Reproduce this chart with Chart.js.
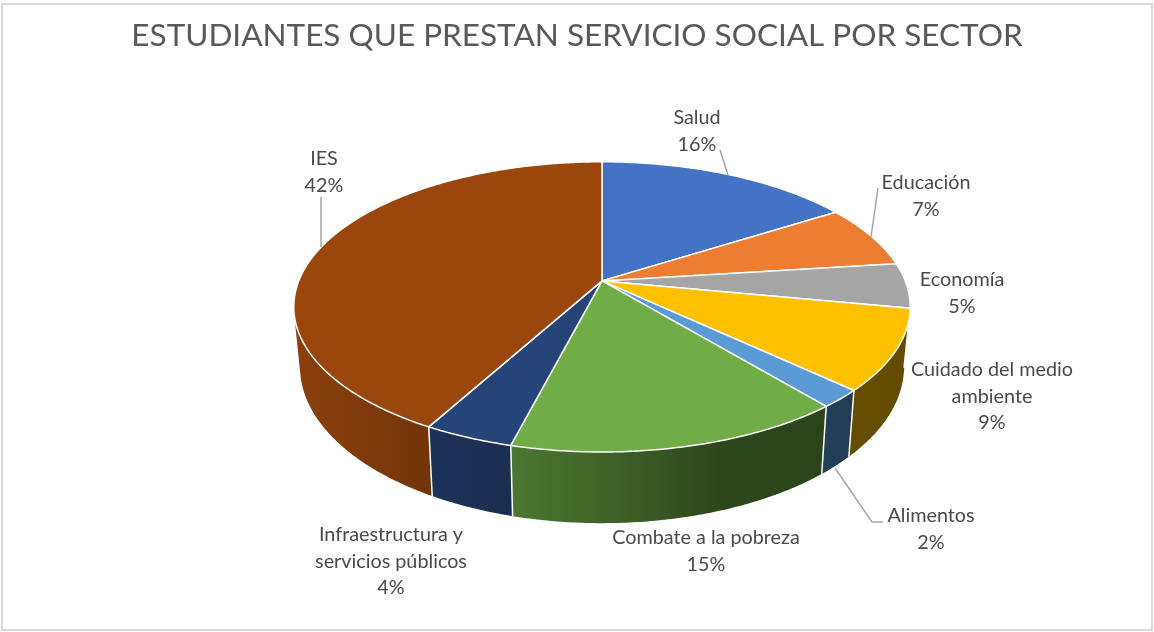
<!DOCTYPE html>
<html>
<head>
<meta charset="utf-8">
<style>
  html, body { margin: 0; padding: 0; background: #fff; }
  #wrap { position: relative; width: 1154px; height: 632px; }
</style>
<script src="https://cdn.jsdelivr.net/npm/chart.js@4"></script>
</head>
<body>
<div id="wrap"><canvas id="chart" width="1154" height="632"></canvas></div>
<script>
// ===== Data =====
const CHART_TITLE = 'ESTUDIANTES QUE PRESTAN SERVICIO SOCIAL POR SECTOR';
const SECTORS = ['Salud', 'Educación', 'Economía', 'Cuidado del medio ambiente', 'Alimentos', 'Combate a la pobreza', 'Infraestructura y servicios públicos', 'IES'];
const PERCENTS = [16, 7, 5, 9, 2, 15, 4, 42];
const TOP_COLORS = ['#4472C4', '#ED7D31', '#A5A5A5', '#FFC000', '#5B9BD5', '#70AD47', '#264478', '#9A460C'];
const WALL_COLORS = [
    ['#294476'], ['#8e4b1d'], ['#636363'],
    ['#664d00', '#624a00'],
    ['#23405a', '#213b53'],
    ['#4b7731', '#3d6127', '#2c461b', '#2b441a'],
    ['#1c3359', '#1a2e50'],
    ['#8b400d', '#723409']
];

// ===== Label placement (centre x, y of first line, wrapped lines) =====
const LABEL_X = [697, 926, 962, 992, 931, 706, 391, 324];
const LABEL_Y = [118, 183, 280, 370, 516, 538, 535, 159];
const LABEL_LINES = [['Salud'], ['Educación'], ['Economía'], ['Cuidado del medio', 'ambiente'], ['Alimentos'], ['Combate a la pobreza'], ['Infraestructura y', 'servicios públicos'], ['IES']];
const LEADERS = [
    [[720, 150], [728, 175]],
    [[878, 188], [871, 237]],
    [[321, 197], [321, 247]],
    [[835, 468], [872, 522], [883, 522]]
];

// ===== Projection of the flat pie into the tilted disc =====
const PERSPECTIVE = 0.179;
const RX_FACTOR = 1.384;
const RY_FACTOR = 0.641;
const CENTER_SHIFT = 25; // title stays centred on the canvas, the pie sits right of it

function topPoint(arc, angle) {
    const d = 1 - PERSPECTIVE * Math.sin(angle);
    return {
        x: arc.x + CENTER_SHIFT + arc.outerRadius * RX_FACTOR * Math.cos(angle) / d,
        y: arc.y + arc.outerRadius * RY_FACTOR * Math.sin(angle) / d
    };
}

function bottomPoint(arc, angle) {
    const p = topPoint(arc, angle);
    const cx = arc.x + CENTER_SHIFT;
    return {
        x: cx + (p.x - cx) * 0.98,
        y: p.y + 57.5 + (p.y - arc.y) * 0.08
    };
}

function anglesOf(arc) {
    const list = [];
    const n = Math.max(4, Math.ceil((arc.endAngle - arc.startAngle) / 0.01));
    for (let i = 0; i <= n; i++) list.push(arc.startAngle + (arc.endAngle - arc.startAngle) * i / n);
    return list;
}

function addQuad(ctx, a, b, c, d) {
    const area = (b.x - a.x) * (c.y - a.y) - (b.y - a.y) * (c.x - a.x) + (c.x - a.x) * (d.y - a.y) - (c.y - a.y) * (d.x - a.x);
    const pts = area >= 0 ? [a, b, c, d] : [d, c, b, a];
    ctx.moveTo(pts[0].x, pts[0].y);
    for (let i = 1; i < 4; i++) ctx.lineTo(pts[i].x, pts[i].y);
    ctx.closePath();
}

function drawWall(ctx, arc, colors) {
    const angles = anglesOf(arc).filter(a => Math.sin(a) > -0.3);
    if (angles.length < 2) return;
    const tops = angles.map(a => topPoint(arc, a));
    const bottoms = angles.map(a => bottomPoint(arc, a));
    const xs = tops.concat(bottoms).map(p => p.x);
    const grad = ctx.createLinearGradient(Math.min(...xs), 0, Math.max(...xs), 0);
    colors.forEach((c, i) => grad.addColorStop(colors.length > 1 ? i / (colors.length - 1) : 0, c));
    ctx.fillStyle = grad;
    ctx.beginPath();
    for (let i = 0; i < angles.length - 1; i++) addQuad(ctx, tops[i], tops[i + 1], bottoms[i + 1], bottoms[i]);
    ctx.fill('nonzero');
}

function drawEdge(ctx, arc, angle) {
    if (Math.sin(angle) < 0) return;
    const t = topPoint(arc, angle);
    const b = bottomPoint(arc, angle);
    ctx.beginPath();
    ctx.moveTo(t.x, t.y);
    ctx.lineTo(b.x, b.y);
    ctx.strokeStyle = '#fff';
    ctx.lineWidth = 1.5;
    ctx.stroke();
}

function drawTop(ctx, arc, color) {
    const apexX = arc.x + CENTER_SHIFT;
    ctx.beginPath();
    ctx.moveTo(apexX, arc.y);
    anglesOf(arc).forEach(a => {
        const p = topPoint(arc, a);
        ctx.lineTo(p.x, p.y);
    });
    ctx.closePath();
    ctx.fillStyle = color;
    ctx.fill();
    ctx.strokeStyle = '#fff';
    ctx.lineWidth = 1.5;
    ctx.lineJoin = 'round';
    ctx.stroke();
}

// draws the library's arc elements tilted, with their side wall
const tiltedPie = {
    id: 'tiltedPie',
    beforeDraw(chart) {
        const ctx = chart.ctx;
        ctx.save();
        ctx.fillStyle = '#fff';
        ctx.fillRect(0, 0, chart.width, chart.height);
        ctx.strokeStyle = '#d9d9d9';
        ctx.lineWidth = 2;
        ctx.strokeRect(2, 4, chart.width - 4, chart.height - 6);
        ctx.restore();
    },
    beforeDatasetsDraw(chart) {
        const ctx = chart.ctx;
        const arcs = chart.getDatasetMeta(0).data;
        ctx.save();
        arcs.forEach((arc, i) => drawWall(ctx, arc, WALL_COLORS[i]));
        arcs.forEach(arc => {
            drawEdge(ctx, arc, arc.startAngle);
        });
        arcs.forEach((arc, i) => drawTop(ctx, arc, TOP_COLORS[i]));
        ctx.restore();
        return false;
    },
    afterDraw(chart) {
        const ctx = chart.ctx;
        ctx.save();
        ctx.strokeStyle = '#a6a6a6';
        ctx.lineWidth = 1.5;
        LEADERS.forEach(line => {
            ctx.beginPath();
            line.forEach((p, i) => i ? ctx.lineTo(p[0], p[1]) : ctx.moveTo(p[0], p[1]));
            ctx.stroke();
        });
        ctx.fillStyle = '#4a4a4a';
        ctx.font = "19.8px Lato";
        ctx.textAlign = 'center';
        ctx.textBaseline = 'middle';
        LABEL_LINES.forEach((lines, i) => {
            const rows = lines.concat(PERCENTS[i] + '%');
            rows.forEach((row, r) => ctx.fillText(row, LABEL_X[i], LABEL_Y[i] + r * 26.2));
        });
        ctx.restore();
    }
};

new Chart(document.getElementById('chart'), {
    type: 'pie',
    data: {
        labels: SECTORS,
        datasets: [{ data: PERCENTS, backgroundColor: TOP_COLORS, borderWidth: 0 }]
    },
    options: {
        responsive: false,
        animation: false,
        layout: { padding: { bottom: 132 } },
        plugins: {
            legend: { display: false },
            tooltip: { enabled: false },
            title: {
                display: true,
                text: CHART_TITLE,
                color: '#595959',
                font: { family: 'Lato', size: 31.5, weight: '400' },
                padding: { top: 17, bottom: 7 }
            }
        }
    },
    plugins: [tiltedPie]
});
</script>
</body>
</html>
